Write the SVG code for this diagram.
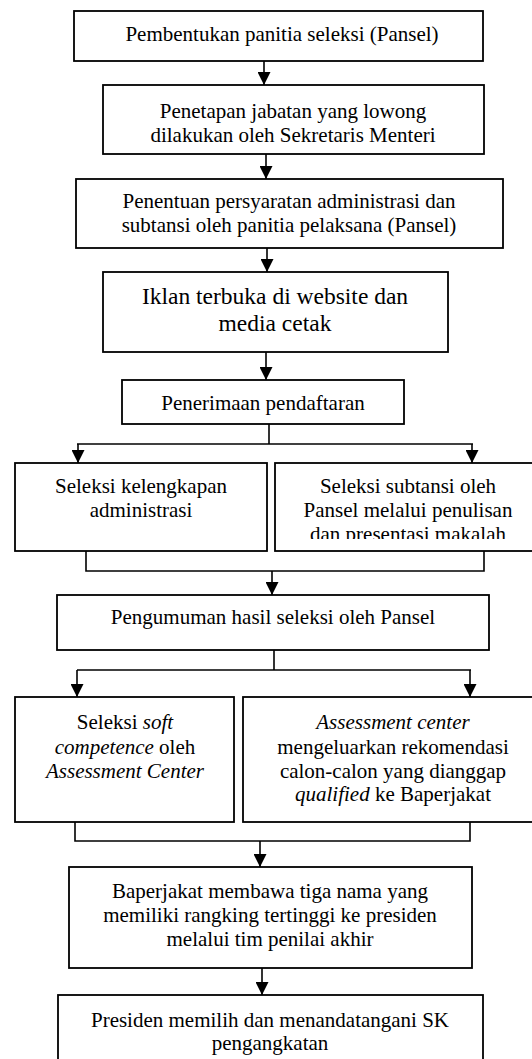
<svg xmlns="http://www.w3.org/2000/svg" width="532" height="1059" viewBox="0 0 532 1059">
<style>
rect.box{fill:#fff;stroke:#000;stroke-width:1.8}
text{font-family:"Liberation Serif","Times New Roman",serif;font-size:21px;fill:#000;text-anchor:middle}
text.big{font-size:23.5px}
.it{font-style:italic}
.conn line,.conn polyline{stroke:#000;stroke-width:1.6;fill:none}
</style>
<defs>
<marker id="ah" viewBox="0 0 10 10" refX="10" refY="5" markerUnits="userSpaceOnUse" markerWidth="14" markerHeight="13" orient="auto">
<path d="M0,0 L10,5 L0,10 z" fill="#000"/>
</marker>
<clipPath id="clip7"><rect x="275" y="463" width="266" height="76"/></clipPath>
</defs>
<rect width="532" height="1059" fill="#fff"/>
<g class="conn" id="connectors">
<line x1="264" y1="61" x2="264" y2="85" marker-end="url(#ah)"/>
<line x1="266" y1="154" x2="266" y2="179" marker-end="url(#ah)"/>
<line x1="267" y1="248" x2="267" y2="272" marker-end="url(#ah)"/>
<line x1="266" y1="352" x2="266" y2="380" marker-end="url(#ah)"/>
<polyline points="269,424 269,444"/>
<line x1="77" y1="444" x2="473" y2="444"/>
<line x1="78" y1="444" x2="78" y2="463" marker-end="url(#ah)"/>
<line x1="472" y1="444" x2="472" y2="463" marker-end="url(#ah)"/>
<polyline points="86,551 86,571 484,571 484,551"/>
<line x1="272" y1="571" x2="272" y2="595" marker-end="url(#ah)"/>
<polyline points="274,650 274,670"/>
<line x1="77" y1="670" x2="471" y2="670"/>
<line x1="77" y1="670" x2="77" y2="697" marker-end="url(#ah)"/>
<line x1="470" y1="670" x2="470" y2="697" marker-end="url(#ah)"/>
<polyline points="75,822 75,841 470,841 470,822"/>
<line x1="260" y1="841" x2="260" y2="867" marker-end="url(#ah)"/>
<line x1="262" y1="968" x2="262" y2="995" marker-end="url(#ah)"/>
</g>
<g id="n1">
<rect class="box" x="74" y="11" width="409" height="50"/>
<text x="282" y="41" font-size="21.5">Pembentukan panitia seleksi (Pansel)</text>
</g>
<g id="n2">
<rect class="box" x="103" y="85" width="381" height="69"/>
<text x="293" y="118">Penetapan jabatan yang lowong</text>
<text x="293" y="142">dilakukan oleh Sekretaris Menteri</text>
</g>
<g id="n3">
<rect class="box" x="76" y="179" width="427" height="69"/>
<text x="289" y="208">Penentuan persyaratan administrasi dan</text>
<text x="289" y="232">subtansi oleh panitia pelaksana (Pansel)</text>
</g>
<g id="n4">
<rect class="box" x="103" y="272" width="345" height="80"/>
<text class="big" x="275" y="304">Iklan terbuka di website dan</text>
<text class="big" x="275" y="331">media cetak</text>
</g>
<g id="n5">
<rect class="box" x="122" y="380" width="282" height="44"/>
<text x="263" y="410">Penerimaan pendaftaran</text>
</g>
<g id="n6">
<rect class="box" x="15" y="463" width="252" height="88"/>
<text x="141" y="493">Seleksi kelengkapan</text>
<text x="141" y="517">administrasi</text>
</g>
<g id="n7">
<rect class="box" x="275" y="463" width="266" height="88"/>
<g clip-path="url(#clip7)">
<text x="408" y="493">Seleksi subtansi oleh</text>
<text x="408" y="517">Pansel melalui penulisan</text>
<text x="408" y="541">dan presentasi makalah</text>
</g>
</g>
<g id="n8">
<rect class="box" x="57" y="595" width="432" height="55"/>
<text x="273" y="624">Pengumuman hasil seleksi oleh Pansel</text>
</g>
<g id="n9">
<rect class="box" x="15" y="697" width="219" height="125"/>
<text x="125" y="729">Seleksi <tspan class="it">soft</tspan></text>
<text x="125" y="754"><tspan class="it">competence</tspan> oleh</text>
<text x="125" y="778" class="it">Assessment Center</text>
</g>
<g id="n10">
<rect class="box" x="243" y="697" width="298" height="125"/>
<text x="393" y="729" class="it">Assessment center</text>
<text x="393" y="754">mengeluarkan rekomendasi</text>
<text x="393" y="778">calon-calon yang dianggap</text>
<text x="393" y="801"><tspan class="it">qualified</tspan> ke Baperjakat</text>
</g>
<g id="n11">
<rect class="box" x="69" y="867" width="403" height="101"/>
<text x="270" y="898">Baperjakat membawa tiga nama yang</text>
<text x="270" y="922">memiliki rangking tertinggi ke presiden</text>
<text x="270" y="946">melalui tim penilai akhir</text>
</g>
<g id="n12">
<rect class="box" x="58" y="995" width="425" height="70"/>
<text x="270" y="1027">Presiden memilih dan menandatangani SK</text>
<text x="270" y="1050">pengangkatan</text>
</g>
</svg>
